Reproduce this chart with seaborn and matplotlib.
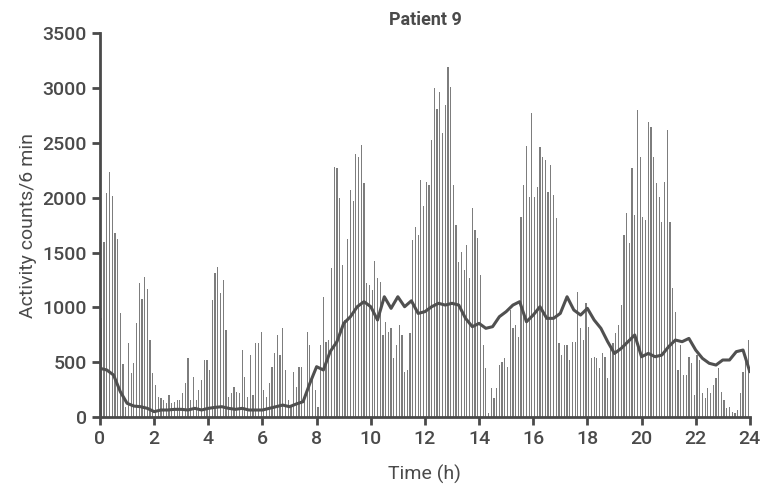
import numpy as np
import pandas as pd
import seaborn as sns
import matplotlib.pyplot as plt

# activity counts per 6 min interval, 240 intervals over 24 h
counts = [
    900, 1600, 2040, 2237, 2019, 1675, 1620, 945, 480, 95,
    672, 398, 490, 854, 1219, 1073, 1280, 1164, 702, 398,
    292, 185, 170, 155, 125, 200, 125, 140, 155, 155,
    216, 307, 535, 155, 368, 155, 246, 337, 520, 520,
    429, 1067, 1310, 1371, 1128, 1249, 793, 185, 216, 277,
    231, 216, 611, 368, 185, 565, 200, 672, 672, 778,
    246, 185, 307, 459, 580, 748, 565, 809, 429, 155,
    95, 413, 277, 459, 459, 185, 778, 657, 368, 246,
    95, 657, 1097, 687, 702, 1356, 2283, 2268, 1994, 1386,
    885, 1620, 2070, 1970, 2400, 2374, 2480, 2131, 1219, 1204,
    1158, 1423, 1265, 1234, 748, 869, 778, 809, 535, 657,
    839, 748, 413, 429, 763, 1614, 1736, 1660, 2161, 1924,
    2146, 2116, 2526, 2997, 2809, 2967, 2587, 2845, 3195, 3013,
    2116, 1751, 1417, 1508, 1341, 1569, 1265, 1903, 1705, 1629,
    1295, 657, 444, 33, 261, 170, 261, 474, 505, 535,
    459, 976, 809, 839, 733, 1827, 2116, 2472, 2009, 2769,
    2009, 2101, 2459, 2374, 2344, 2055, 2298, 2025, 1812, 672,
    565, 657, 657, 520, 687, 687, 1143, 809, 702, 1037,
    824, 535, 550, 535, 444, 580, 550, 353, 617, 672,
    763, 839, 1021, 1660, 1857, 1584, 2268, 1842, 2800, 2374,
    1827, 1797, 2693, 2648, 2374, 2131, 2009, 1781, 2146, 2617,
    1781, 1173, 961, 429, 657, 383, 383, 550, 490, 200,
    565, 520, 216, 170, 261, 216, 292, 353, 444, 231,
    155, 79, 94, 49, 33, 64, 216, 413, 565, 700,
]
bin_hours = np.arange(len(counts)) * 0.1 + 0.05

# smoothed activity curve (every 15 min)
line_hours = np.arange(0, 24.01, 0.25)
line_vals = [
    444, 429, 383, 231, 125, 100, 94, 79, 49, 64, 64, 70, 70, 64, 79, 64,
    79, 88, 94, 79, 70, 79, 64, 64, 64, 79, 94, 109, 94, 119, 140, 307,
    459, 429, 596, 687, 854, 915, 1006, 1052, 1006, 885, 1097, 991, 1097, 1006,
    1060, 945, 961, 1006, 1037, 1021, 1037, 1021, 900, 824, 854, 809, 824, 915,
    961, 1021, 1052, 869, 930, 1006, 900, 900, 945, 1097, 976, 930, 991, 885,
    809, 687, 580, 626, 687, 748, 550, 580, 550, 565, 641, 702, 687, 717,
    611, 535, 490, 474, 520, 520, 596, 611, 413,
]

x_ticks = list(range(0, 25, 2))
y_ticks = list(range(0, 3501, 500))

sns.set_style("ticks")
plt.rcParams['font.family'] = ['Roboto', 'DejaVu Sans']
ink = '#4a4a4a'

fig = plt.figure(figsize=(7.6, 4.87), dpi=100)
ax = fig.add_axes([0.1316, 0.1437, 0.855, 0.788])

bars = pd.DataFrame({'hour': bin_hours, 'count': counts})
sns.barplot(data=bars, x='hour', y='count', native_scale=True, width=0.45,
            color='#7d7d7d', saturation=1, errorbar=None, linewidth=0, ax=ax)
sns.lineplot(x=line_hours, y=line_vals, color='#505050', linewidth=2.2, ax=ax)

ax.set_xlim(0, 24)
ax.set_ylim(0, 3500)
ax.set_xticks(x_ticks)
ax.set_yticks(y_ticks)
ax.tick_params(axis='both', colors=ink, labelsize=14, width=2, length=6)
for lab in ax.get_xticklabels() + ax.get_yticklabels():
    lab.set_color(ink)
    lab.set_fontweight('medium')
sns.despine(ax=ax)
for side in ['left', 'bottom']:
    ax.spines[side].set_linewidth(2)
    ax.spines[side].set_color(ink)

ax.set_xlabel('Time (h)', fontsize=14, color=ink, labelpad=12)
ax.set_ylabel('Activity counts/6 min', fontsize=14, color=ink, labelpad=4)
ax.set_title('Patient 9', fontsize=13, fontweight='bold', color=ink, pad=6)

fig.savefig('out.png', dpi=100)
